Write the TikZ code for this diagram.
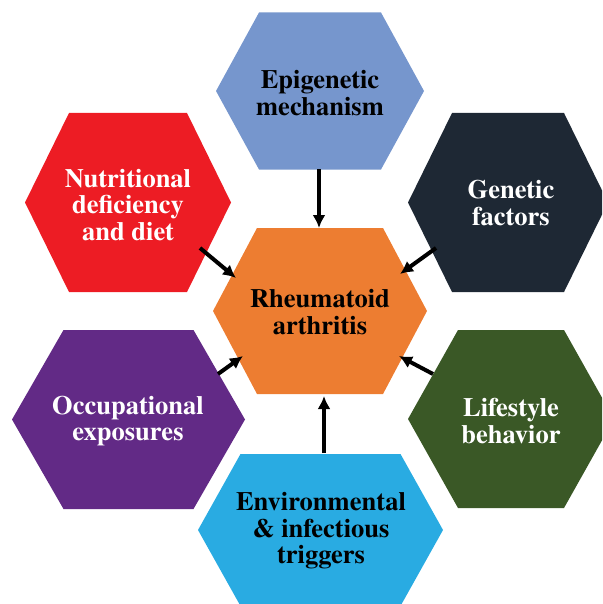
\documentclass[tikz,border=0pt]{standalone}
\usepackage{fontspec}
\setmainfont{texgyretermes}[Extension=.otf, UprightFont=*-regular, BoldFont=*-bold]
\usetikzlibrary{arrows.meta}

\definecolor{epiblue}{RGB}{118,150,205}
\definecolor{gennavy}{RGB}{30,40,52}
\definecolor{nutred}{RGB}{237,28,36}
\definecolor{raorange}{RGB}{237,125,49}
\definecolor{occpurple}{RGB}{98,42,134}
\definecolor{lifegreen}{RGB}{58,88,38}
\definecolor{envcyan}{RGB}{41,171,226}

\tikzset{
  lbl/.style={align=center, inner sep=0pt,
    font=\fontsize{26.5}{26.5}\selectfont\bfseries},
  link/.style={line width=4pt, -{Latex[length=13pt,width=13pt]}},
}

% flat-topped hexagon: #1 colour, #2 cx, #3 cy, #4 half width,
% #5 half width of the top edge, #6 half height
\newcommand\hexpatch[6]{%
  \fill[#1] (#2-#4,#3) -- (#2-#5,#3-#6) -- (#2+#5,#3-#6)
    -- (#2+#4,#3) -- (#2+#5,#3+#6) -- (#2-#5,#3+#6) -- cycle;}

\begin{document}
\begin{tikzpicture}[x=1pt,y=-1pt]
\useasboundingbox (0,0) rectangle (602,604);
\clip (0,0) rectangle (602,604);

% hexagons
\hexpatch{epiblue}{320}{91}{104}{61}{78.5}
\hexpatch{nutred}{128}{202.5}{103}{59}{89.5}
\hexpatch{gennavy}{508}{202.5}{100}{56}{89.5}
\hexpatch{raorange}{320}{311}{107}{63}{83}
\hexpatch{occpurple}{128.5}{419.5}{116.5}{65}{89.5}
\hexpatch{lifegreen}{511}{419}{103}{53}{89}
\hexpatch{envcyan}{320.5}{530}{122.5}{80}{76}

% labels
\node[lbl] (epi) at (320,93) {Epigenetic\\mechanism};
\node[lbl, text=white] (nut) at (128,205) {Nutritional\\deficiency\\and diet};
\node[lbl, text=white] (gen) at (511,203) {Genetic\\factors};
\node[lbl] (ra) at (320,312) {Rheumatoid\\arthritis};
\node[lbl, text=white] (occ) at (128,421) {Occupational\\exposures};
\node[lbl, text=white] (life) at (511,421) {Lifestyle\\behavior};
\node[lbl] (env) at (321,531) {Environmental\\\& infectious\\triggers};

% connector ends on the hexagon edges
\coordinate (epi-out) at (319,169);
\coordinate (ra-n) at (319,228);
\coordinate (nut-out) at (200,248);
\coordinate (ra-nw) at (236,278);
\coordinate (gen-out) at (436,248);
\coordinate (ra-ne) at (400,274);
\coordinate (occ-out) at (218,374);
\coordinate (ra-sw) at (243,356);
\coordinate (life-out) at (433,374);
\coordinate (ra-se) at (399,356);
\coordinate (env-out) at (324,453);
\coordinate (ra-s) at (324,396);

% connectors
\draw[link] (epi-out) -- (ra-n);
\draw[link] (nut-out) -- (ra-nw);
\draw[link] (gen-out) -- (ra-ne);
\draw[link] (occ-out) -- (ra-sw);
\draw[link] (life-out) -- (ra-se);
\draw[link] (env-out) -- (ra-s);
\end{tikzpicture}
\end{document}
